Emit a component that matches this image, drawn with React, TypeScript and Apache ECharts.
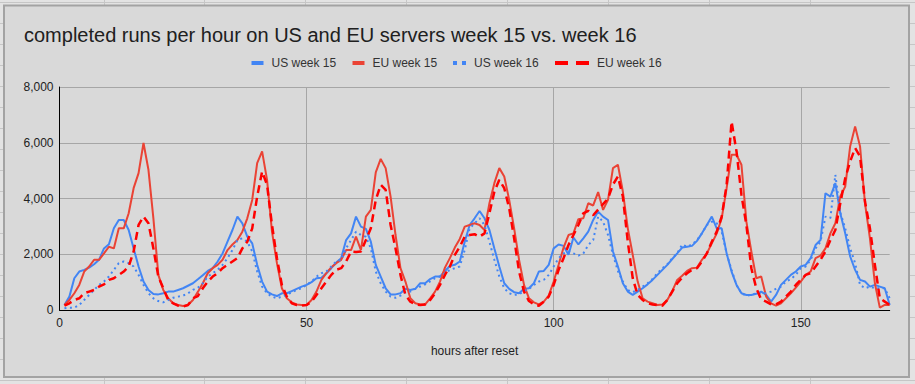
import { useEffect, useRef } from "react";
import * as echarts from "echarts";

// hour index after reset (1..168)
const hours: number[] = Array.from({ length: 168 }, (_, i) => i + 1);

const usWeek15: number[] = [
  180, 480, 1140, 1380, 1440, 1520, 1640, 1800, 2210, 2360, 2930, 3230, 3230, 2870, 2210, 1560, 1020, 720, 575, 560, 600, 660, 660, 720, 780, 870, 960, 1100,
  1250, 1400, 1500, 1740, 2030, 2450, 2870, 3350, 3110, 2630, 2390, 1620, 1020, 660, 560, 500, 600, 600, 680, 760, 840, 900, 1000, 1140, 1160, 1320, 1500, 1700,
  1860, 2510, 2750, 3350, 2990, 2910, 2450, 1620, 1200, 780, 560, 560, 600, 760, 720, 760, 960, 960, 1110, 1200, 1200, 1400, 1580, 1620, 1740, 2450, 3050, 3290, 3550,
  3290, 2870, 2210, 1560, 960, 760, 640, 600, 760, 780, 960, 1380, 1400, 1620, 2210, 2350, 2300, 1980, 2600, 2350, 2570, 2810, 3230, 3530, 3350, 3230, 2100, 1560,
  960, 660, 540, 660, 780, 920, 1080, 1260, 1440, 1620, 1830, 2030, 2240, 2270, 2300, 2480, 2750, 3050, 3350, 2930, 2930, 2030, 1380, 900, 600, 540, 540, 580,
  660, 540, 300, 540, 900, 1080, 1260, 1380, 1560, 1620, 1860, 2330, 2510, 4190, 4070, 4550, 3470, 2750, 1920, 1440, 1080, 1020, 840, 900, 840, 780, 180,
];

const euWeek15: number[] = [
  180, 360, 600, 900, 1380, 1560, 1800, 1800, 2030, 2270, 2210, 2930, 2930, 3470, 4370, 4910, 5990, 5030, 3290, 1260, 720, 420, 240, 180, 140, 180, 360, 650,
  960, 1320, 1500, 1620, 1800, 2150, 2350, 2510, 2810, 3290, 3950, 5270, 5690, 4670, 2810, 1680, 780, 420, 275, 200, 180, 180, 360, 660, 1080, 1320, 1530, 1680,
  1800, 2150, 2150, 2630, 2150, 3350, 3590, 4940, 5420, 5090, 4070, 2690, 1500, 1020, 420, 240, 200, 200, 420, 660, 1020, 1520, 1860, 2240, 2550, 2990, 3050, 3110, 3050,
  2870, 3830, 4550, 5090, 4790, 3950, 2930, 1800, 900, 420, 275, 200, 300, 515, 1020, 1620, 2240, 2690, 2750, 3260, 3290, 3830, 3750, 4230, 3590, 3950, 5090, 5210,
  4250, 2930, 1980, 1020, 420, 300, 240, 180, 200, 360, 680, 1080, 1230, 1400, 1500, 1520, 1800, 2030, 2390, 2750, 3290, 4370, 5570, 5570, 5210, 3170, 2100, 1140,
  1200, 480, 240, 155, 240, 420, 600, 800, 1020, 1260, 1380, 1860, 1950, 2210, 2750, 3110, 4070, 4430, 5870, 6580, 5870, 3830, 2570, 960, 85, 180, 180,
];

const usWeek16: number[] = [
  60, 85, 85, 180, 360, 540, 720, 900, 1020, 1200, 1440, 1680, 1740, 1680, 1560, 1260, 900, 600, 420, 320, 275, 360, 440, 480, 515, 600, 720, 800,
  960, 1200, 1320, 1440, 1620, 1860, 2150, 2510, 2570, 2450, 2100, 1380, 840, 600, 480, 420, 480, 540, 640, 720, 780, 900, 1020, 1200, 1320, 1380, 1560, 1740,
  1800, 2210, 2510, 2810, 2690, 2630, 2210, 1380, 960, 660, 480, 440, 515, 640, 660, 760, 840, 920, 1030, 1140, 1200, 1320, 1440, 1500, 1560, 2150, 2930, 3110, 3290,
  3050, 2450, 1800, 1200, 780, 600, 540, 560, 680, 760, 900, 1020, 1080, 1260, 1560, 1860, 2030, 2100, 2030, 1950, 2030, 2330, 2510, 3350, 3170, 2690, 1980, 1400,
  1020, 720, 640, 720, 840, 960, 1110, 1320, 1500, 1640, 1860, 2030, 2350, 2270, 2350, 2510, 2750, 3050, 3170, 3110, 2810, 2030, 1440, 900, 600, 515, 540, 600,
  600, 600, 660, 760, 840, 1020, 1110, 1260, 1500, 1560, 1800, 2210, 2450, 3350, 3300, 4850, 3500, 2930, 2210, 1680, 900, 780, 840, 780, 780, 780, 420,
];

const euWeek16: number[] = [
  155, 240, 360, 420, 600, 660, 720, 840, 920, 1080, 1140, 1260, 1380, 1560, 2100, 3050, 3350, 3110, 2210, 1200, 780, 360, 240, 155, 120, 180, 420, 500,
  780, 1020, 1200, 1320, 1500, 1620, 1740, 1860, 2210, 2450, 2930, 4070, 4970, 4490, 3050, 1860, 900, 480, 240, 180, 155, 180, 300, 540, 780, 1020, 1260, 1440,
  1500, 1740, 2100, 2080, 2100, 2510, 2930, 3950, 4490, 4310, 3050, 2210, 1260, 540, 300, 200, 180, 200, 360, 600, 900, 1260, 1560, 1980, 2270, 2630, 2690, 2720, 2630,
  2750, 3470, 4250, 4670, 4370, 3650, 2570, 1380, 660, 320, 200, 155, 300, 480, 900, 1440, 1860, 2330, 2690, 3050, 3470, 3560, 3400, 3600, 3800, 4000, 4500, 4790,
  4070, 2450, 1140, 540, 360, 240, 200, 180, 155, 360, 660, 960, 1160, 1320, 1440, 1500, 1740, 2030, 2450, 2810, 3350, 4490, 6760, 5690, 4130, 3050, 1500, 780,
  380, 300, 200, 200, 300, 480, 660, 900, 1080, 1260, 1320, 1560, 1800, 2100, 2510, 2870, 3830, 4730, 5330, 5810, 5510, 3890, 2930, 1620, 420, 300, 180,
];

const seriesNames: string[] = ["US week 15", "EU week 15", "US week 16", "EU week 16"];
const seriesColors: string[] = ["#4285f4", "#ea4335", "#4285f4", "#ff0000"];
const titleText = "completed runs per hour on US and EU servers week 15 vs. week 16";
const xAxisName = "hours after reset";

const FONT = "Arial, 'Liberation Sans', sans-serif";

function pairs(values: number[]): number[][] {
  return values.map((v, i) => [hours[i], v]);
}

export default function App() {
  const ref = useRef<HTMLDivElement>(null);

  useEffect(() => {
    if (!ref.current) return;
    const chart = echarts.init(ref.current, undefined, { renderer: "svg" });

    const cellLines: any[] = [];
    [104, 204, 305, 406, 507, 608, 709, 810].forEach((x) =>
      cellLines.push({
        type: "line",
        z: -20,
        silent: true,
        shape: { x1: x + 0.5, y1: 0, x2: x + 0.5, y2: 384 },
        style: { stroke: "#c6c6c6", lineWidth: 1 },
      })
    );
    for (let y = 2; y < 384; y += 21) {
      cellLines.push({
        type: "line",
        z: -20,
        silent: true,
        shape: { x1: 0, y1: y + 0.5, x2: 915, y2: y + 0.5 },
        style: { stroke: "#c6c6c6", lineWidth: 1 },
      });
    }

    const legendIcons = [
      { name: seriesNames[0], left: 251.5, w: 12, icon: "path://M0,0H12V4H0Z" },
      { name: seriesNames[1], left: 352.5, w: 12, icon: "path://M0,0H12V4H0Z" },
      { name: seriesNames[2], left: 453, w: 13, icon: "path://M0,0H4V4H0ZM9,0H13V4H9Z" },
      { name: seriesNames[3], left: 555, w: 34, icon: "path://M0,0H13V4H0ZM21,0H34V4H21Z" },
    ];

    chart.setOption({
      animation: false,
      backgroundColor: "#e3e3e3",
      graphic: [
        ...cellLines,
        {
          type: "rect",
          z: -10,
          silent: true,
          shape: { x: 4, y: 5.5, width: 905, height: 371.5 },
          style: { fill: "#d9d9d9", stroke: "#a3a3a3", lineWidth: 2 },
        },
      ],
      title: {
        text: titleText,
        left: 24,
        top: 25,
        padding: 0,
        textStyle: { fontFamily: FONT, fontSize: 20, fontWeight: "normal", color: "#202020" },
      },
      legend: legendIcons.map((l) => ({
        data: [l.name],
        left: l.left,
        top: 57,
        padding: 0,
        itemWidth: l.w,
        itemHeight: 4,
        icon: l.icon,
        textStyle: { fontFamily: FONT, fontSize: 12, color: "#333333", padding: [0, 0, 0, 3] },
      })),
      grid: { left: 59.5, right: 25.3, top: 87, bottom: 74, containLabel: false },
      xAxis: {
        type: "value",
        min: 0,
        max: 168,
        interval: 50,
        name: xAxisName,
        nameLocation: "middle",
        nameGap: 35,
        nameTextStyle: { fontFamily: FONT, fontSize: 12, color: "#222222" },
        axisLine: { show: true, onZero: false, lineStyle: { color: "#000000", width: 1 } },
        axisTick: { show: false },
        axisLabel: { fontFamily: FONT, fontSize: 12, color: "#222222", margin: 7, showMaxLabel: false },
        splitLine: { show: true, showMaxLine: false, lineStyle: { color: "#a6a6a6", width: 1 } },
      },
      yAxis: {
        type: "value",
        min: 0,
        max: 8000,
        interval: 2000,
        axisLine: { show: true, lineStyle: { color: "#000000", width: 1 } },
        axisTick: { show: false },
        axisLabel: {
          fontFamily: FONT,
          fontSize: 12,
          color: "#222222",
          margin: 6,
          formatter: (v: number) => v.toLocaleString("en-US"),
        },
        splitLine: { show: true, lineStyle: { color: "#a6a6a6", width: 1 } },
      },
      series: [
        {
          name: seriesNames[0],
          type: "line",
          data: pairs(usWeek15),
          symbol: "none",
          color: seriesColors[0],
          lineStyle: { width: 2, color: seriesColors[0] },
        },
        {
          name: seriesNames[1],
          type: "line",
          data: pairs(euWeek15),
          symbol: "none",
          color: seriesColors[1],
          lineStyle: { width: 2, color: seriesColors[1] },
        },
        {
          name: seriesNames[2],
          type: "line",
          data: pairs(usWeek16),
          symbol: "none",
          color: seriesColors[2],
          lineStyle: { width: 2, color: seriesColors[2], type: [2, 3.5] },
        },
        {
          name: seriesNames[3],
          type: "line",
          data: pairs(euWeek16),
          symbol: "none",
          color: seriesColors[3],
          lineStyle: { width: 2.5, color: seriesColors[3], type: [8, 5] },
        },
      ],
    });

    return () => chart.dispose();
  }, []);

  return (
    <div
      ref={ref}
      style={{ position: "fixed", left: 0, top: 0, width: 915, height: 384 }}
    />
  );
}
